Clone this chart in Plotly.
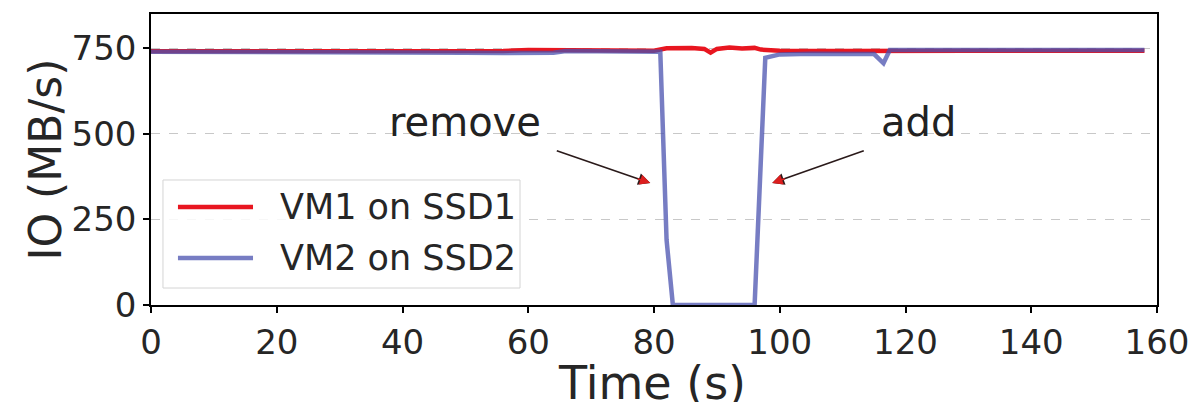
import plotly.graph_objects as go

# VM1 on SSD1 (red)
vm1_t = [0, 10, 20, 30, 40, 50, 56, 60, 66, 70, 80, 82, 84, 86, 88, 89, 90, 91, 92, 94, 96, 97, 100, 110, 116, 118, 130, 140, 150, 158]
vm1_io = [741, 741, 740, 741, 741, 741, 742, 745, 745, 743, 743, 750, 752, 751, 748, 737, 748, 750, 752, 749, 751, 746, 743, 742, 743, 744, 743, 743, 743, 743]

# VM2 on SSD2 (blue)
vm2_t = [0, 10, 20, 30, 40, 50, 56, 60, 64, 66, 70, 80, 81, 82, 83, 90, 96, 97.7, 100, 105, 110, 115, 116.5, 117.5, 120, 130, 140, 150, 158]
vm2_io = [740, 740, 739, 739, 738, 737, 736, 738, 737, 742, 742, 742, 740, 190, 0, 0, 0, 722, 732, 734, 733, 733, 706, 745, 745, 745, 745, 745, 745]

x_ticks = [0, 20, 40, 60, 80, 100, 120, 140, 160]
y_ticks = [0, 250, 500, 750]

series_names = ["VM1 on SSD1", "VM2 on SSD2"]
RED = "rgb(232,22,32)"
BLUE = "rgba(74,81,175,0.75)"
FONT = "DejaVu Sans"

fig = go.Figure()
fig.add_trace(go.Scatter(x=vm1_t, y=vm1_io, mode="lines", name=series_names[0],
                         line=dict(color=RED, width=4.5)))
fig.add_trace(go.Scatter(x=vm2_t, y=vm2_io, mode="lines", name=series_names[1],
                         line=dict(color=BLUE, width=4.5)))

# annotations: text
fig.add_annotation(x=50, y=534, text="remove", showarrow=False,
                   font=dict(family=FONT, size=40, color="#222"))
fig.add_annotation(x=122, y=534, text="add", showarrow=False,
                   font=dict(family=FONT, size=40, color="#222"))
# arrows (dark shaft) + red heads
for tip, tail, hd in [((79.4, 356), (64.3, 452), (-14, -5)), ((98.8, 356), (113.6, 452), (14, -5))]:
    fig.add_annotation(x=tip[0], y=tip[1], ax=tail[0], ay=tail[1], axref="x", ayref="y",
                       xref="x", yref="y", text="", showarrow=True,
                       arrowhead=2, arrowsize=1.5, arrowwidth=1.6, arrowcolor="#2a1a1a")
    fig.add_annotation(x=tip[0], y=tip[1], ax=hd[0], ay=hd[1],
                       xref="x", yref="y", text="", showarrow=True,
                       arrowhead=2, arrowsize=1.3, arrowwidth=1.6, arrowcolor="rgb(220,30,30)")

# axis titles
fig.add_annotation(xref="paper", yref="paper", x=0.5, y=0, yshift=-78, xshift=-2,
                   xanchor="center", yanchor="middle", text="Time (s)", showarrow=False,
                   font=dict(family=FONT, size=46, color="#262626"))
fig.add_annotation(xref="paper", yref="paper", x=0, y=0.5, xshift=-106,
                   xanchor="center", yanchor="middle", text="IO (MB/s)", textangle=-90,
                   showarrow=False, font=dict(family=FONT, size=44, color="#262626"))

# custom legend (box, line samples, labels)
fig.add_shape(type="rect", xref="paper", yref="paper", x0=0.0119, x1=0.3668, y0=0.0584, y1=0.4296,
              line=dict(color="#d4d4d4", width=1), fillcolor="rgba(255,255,255,0.85)", layer="above")
for yy, col, nm in [(0.3368, RED, series_names[0]), (0.1615, BLUE, series_names[1])]:
    fig.add_shape(type="line", xref="paper", yref="paper", x0=0.0268, x1=0.1014, y0=yy, y1=yy,
                  line=dict(color=col, width=4.5), layer="above")
    fig.add_annotation(xref="paper", yref="paper", x=0.1262, y=yy, xanchor="left", yanchor="middle",
                       text=nm, showarrow=False, font=dict(family=FONT, size=35, color="#262626"))

fig.update_layout(
    width=1196, height=402,
    margin=dict(l=151, r=39, t=14, b=97),
    paper_bgcolor="white", plot_bgcolor="white",
    font=dict(family=FONT, color="#262626"),
    showlegend=False,
)
fig.update_xaxes(range=[0, 160], tickvals=x_ticks, ticks="outside", ticklen=6, tickwidth=1.5,
                 tickcolor="black", showline=True, linecolor="black", linewidth=1.5, mirror=True,
                 showgrid=False, zeroline=False, tickfont=dict(size=34), automargin=False)
fig.update_yaxes(range=[0, 850], tickvals=y_ticks, ticks="outside", ticklen=6, tickwidth=1.5,
                 tickcolor="black", showline=True, linecolor="black", linewidth=1.5, mirror=True,
                 showgrid=True, gridcolor="#c8c8c8", griddash="dash", gridwidth=1,
                 zeroline=False, tickfont=dict(size=34), automargin=False)

fig.write_html("out.html")
